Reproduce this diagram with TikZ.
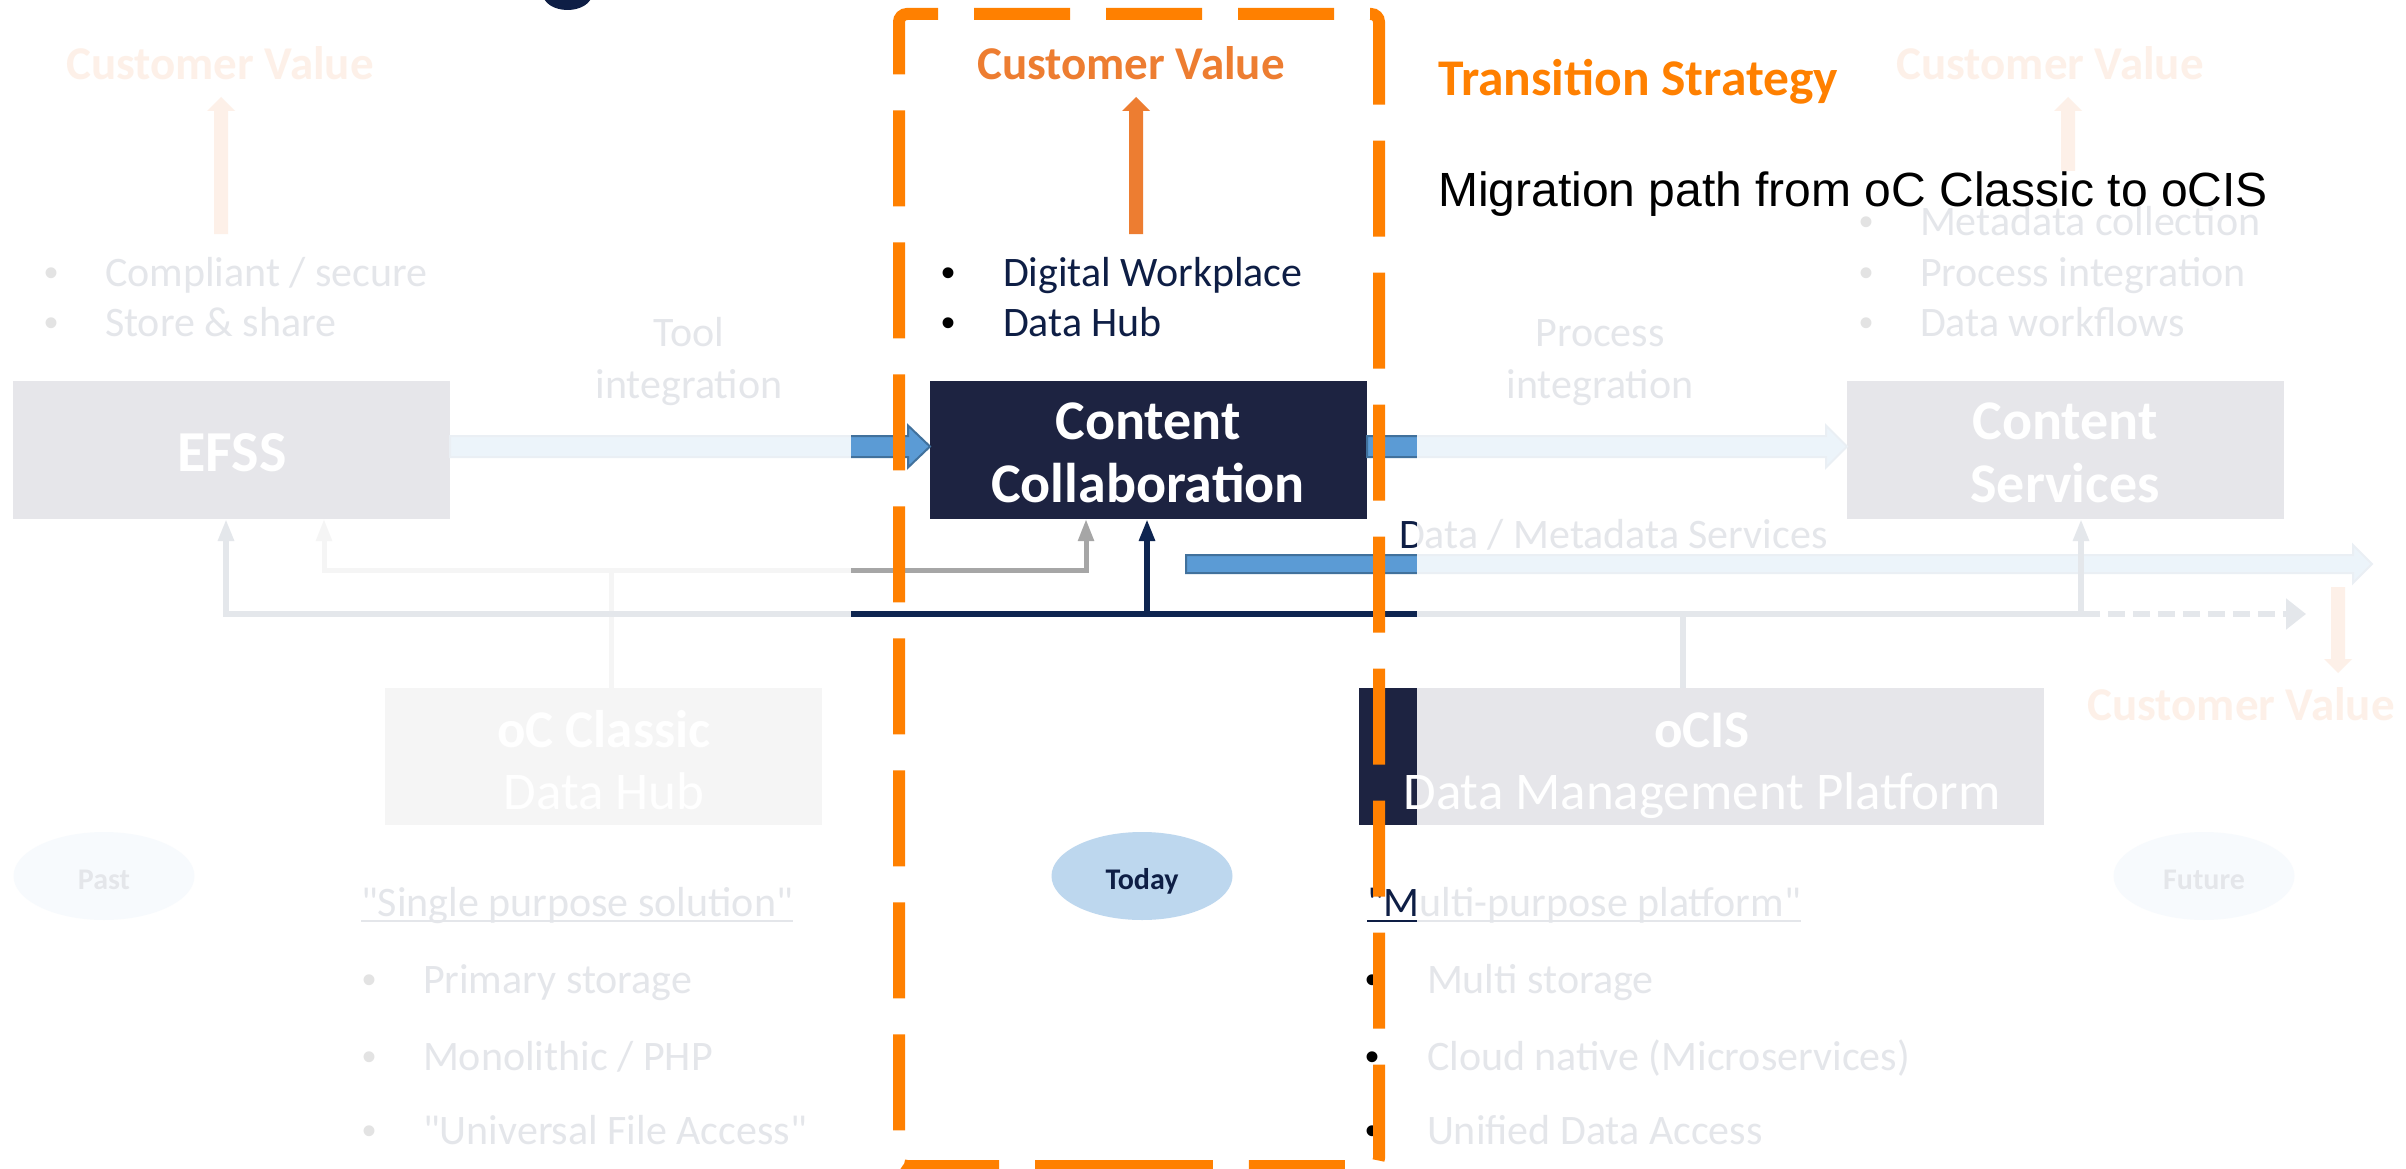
\documentclass[tikz,border=0pt]{standalone}
\usepackage{fontspec}
\setmainfont{Carlito}[Ligatures=TeXOff]
\newfontfamily\arialfont{Liberation Sans}
\usetikzlibrary{arrows.meta,calc,shapes.geometric}
\definecolor{navybox}{HTML}{1D2341}
\definecolor{navytxt}{HTML}{0E1E45}
\definecolor{navyln}{HTML}{0E2550}
\definecolor{cvorange}{HTML}{ED7D31}
\definecolor{hiorange}{HTML}{FF8000}
\definecolor{blockblue}{HTML}{5B9BD5}
\definecolor{blockedge}{HTML}{41719C}
\definecolor{lightblue}{HTML}{BDD7EE}
\definecolor{linegray}{HTML}{A6A6A6}
\newcommand{\dq}{\symbol{34}}
\newcommand{\hblock}[5]{\filldraw[blockarr] ($(#1)+(0,-#3)$) -- ($(#2)+(-#5,-#3)$) -- ($(#2)+(-#5,-#4)$) -- (#2) -- ($(#2)+(-#5,#4)$) -- ($(#2)+(-#5,#3)$) -- ($(#1)+(0,#3)$) -- cycle;}
\newcommand{\vblockup}[3]{\fill[#3] ($(#1)+(-7,0)$) -- ($(#2)+(-7,14)$) -- ($(#2)+(-14,14)$) -- (#2) -- ($(#2)+(14,14)$) -- ($(#2)+(7,14)$) -- ($(#1)+(7,0)$) -- cycle;}
\newcommand{\vblockdown}[3]{\fill[#3] ($(#1)+(-7,0)$) -- ($(#2)+(-7,-14)$) -- ($(#2)+(-14,-14)$) -- (#2) -- ($(#2)+(14,-14)$) -- ($(#2)+(7,-14)$) -- ($(#1)+(7,0)$) -- cycle;}
\tikzset{
  ltip/.tip={Triangle[width=15pt,length=22pt]},
  dtip/.tip={Triangle[width=30pt,length=20pt]},
  box/.style={rectangle, fill=navybox, draw=none, minimum width=437pt, minimum height=138pt, inner sep=0pt, outer sep=0pt},
  boxtxt/.style={text=white, font=\fontsize{58pt}{66pt}\selectfont\bfseries, text height=42pt, text depth=0pt},
  lbl/.style={inner sep=0pt, outer sep=0pt, anchor=base, text=white},
  lblb/.style={lbl, font=\fontsize{56pt}{64pt}\selectfont\bfseries},
  lblm/.style={lbl, font=\fontsize{53pt}{62pt}\selectfont\bfseries},
  lblr/.style={lbl, font=\fontsize{53pt}{62pt}\selectfont},
  ell/.style={ellipse, fill=lightblue, draw=none, minimum width=181pt, minimum height=88pt, inner sep=0pt, text=navytxt, font=\fontsize{30pt}{36pt}\selectfont\bfseries, text height=26pt, text depth=0pt},
  txt/.style={inner sep=0pt, outer sep=0pt, text=navytxt, font=\fontsize{42pt}{50pt}\selectfont},
  txtw/.style={txt, anchor=base west},
  txtc/.style={txt, anchor=base},
  bul/.style={inner sep=0pt, outer sep=0pt, anchor=base, text=black, font=\arialfont\fontsize{40pt}{48pt}\selectfont},
  cv/.style={inner sep=0pt, outer sep=0pt, anchor=base, text=cvorange, font=\fontsize{47pt}{56pt}\selectfont\bfseries},
  blockarr/.style={fill=blockblue, draw=blockedge, line width=2pt},
  grayln/.style={draw=linegray, line width=5pt},
  navyline/.style={draw=navyln, line width=6pt},
  hibox/.style={draw=hiorange, line width=12pt, dash pattern=on 96pt off 36pt, rounded corners=8pt},
}
\begin{document}
\begin{tikzpicture}[x=1pt,y=-1pt]
\useasboundingbox (0,0) rectangle (2406,1169);
\fill[white] (0,0) rectangle (2406,1169);

% main boxes
\node[box] (efss) at (231.5,450) {};
\node[box] (cc) at (1148.5,450) {};
\node[box] (cs) at (2065.5,450) {};
\node[box, fill=linegray, minimum height=137pt] (occ) at (603.5,756.5) {};
\node[box, minimum width=685pt, minimum height=137pt] (ocis) at (1701.5,756.5) {};

\node[boxtxt, inner sep=0pt] (efssT) at (232,450) {EFSS};
\node[lblb] (ccT1) at (1148,439) {Content};
\node[lblb] (ccT2) at (1148,502) {Collaboration};
\node[lblb] (csT1) at (2065,439) {Content};
\node[lblb] (csT2) at (2065,502) {Services};
\node[lblm] (occT1) at (604,747) {oC Classic};
\node[lblr] (occT2) at (604,809) {Data Hub};
\node[lblm] (ocisT1) at (1702,747) {oCIS};
\node[lblr] (ocisT2) at (1702,809) {Data Management Platform};

% ellipses
\node[ell] (past) at (104,876) {Past};
\node[ell] (today) at (1142,876) {Today};
\node[ell] (future) at (2204,876) {Future};

% thick block arrows
\coordinate (a1) at ([yshift=3.5pt]efss.east);
\coordinate (b1) at ([yshift=3.5pt]cc.west);
\hblock{a1}{b1}{10.5}{21}{22}
\coordinate (a2) at ([yshift=3.5pt]cc.east);
\coordinate (b2) at ([yshift=3.5pt]cs.west);
\hblock{a2}{b2}{10.5}{21}{21}
\coordinate (dmA) at (1186,564);
\coordinate (dmB) at (2372,564);
\hblock{dmA}{dmB}{9}{19}{19}

% gray connectors (oC Classic)
\coordinate (gO) at (611,570);
\coordinate (gA) at (324,570);
\coordinate (gB) at (1086,570);
\draw[grayln] (occ.north -| gO) -- (gO);
\draw[grayln,-ltip] (gO) -- (gA) -- (gA |- efss.south);
\draw[grayln,-ltip] (gO) -- (gB) -- (gB |- cc.south);

% navy connectors (oCIS)
\coordinate (nL) at (226,614);
\coordinate (nC) at (1147,614);
\coordinate (nO) at (1683,614);
\coordinate (nR) at (2081,614);
\coordinate (nD) at (2083,614);
\coordinate (nE) at (2306,614);
\draw[navyline,-ltip] (nD) -- (nL) -- (nL |- efss.south);
\draw[navyline,-ltip] (nC) -- (nC |- cc.south);
\draw[navyline,-ltip] (nR) -- (nR |- cs.south);
\draw[navyline] (nO) -- (nO |- ocis.north);
\draw[navyline, dash pattern=on 17pt off 8pt, -dtip] (nD) -- (nE);

% customer value labels and arrows
\node[cv] (cvl) at (220,80) {Customer Value};
\node[cv] (cvc) at (1131,80) {Customer Value};
\node[cv] (cvr) at (2050,80) {Customer Value};
\node[cv] (cvb) at (2241,720) {Customer Value};
\coordinate (cvlT) at (221,234); \coordinate (cvlA) at (221,97);
\coordinate (cvcT) at (1136,234); \coordinate (cvcA) at (1136,97);
\coordinate (cvrT) at (2068,171); \coordinate (cvrA) at (2068,97);
\coordinate (cvbT) at (2338,587); \coordinate (cvbA) at (2338,673);
\vblockup{cvlT}{cvlA}{cvorange}
\vblockup{cvcT}{cvcA}{cvorange}
\vblockup{cvrT}{cvrA}{cvorange}
\vblockdown{cvbT}{cvbA}{cvorange}

% upper bullets
\node[bul] (bl1) at (52,286) {•};
\node[txtw] (tl1) at (105,286) {Compliant / secure};
\node[bul] (bl2) at (52,336) {•};
\node[txtw] (tl2) at (105,336) {Store \& share};
\node[bul] (bc1) at (948,286) {•};
\node[txtw] (tc1) at (1003,286) {Digital Workplace};
\node[bul] (bc2) at (948,336) {•};
\node[txtw] (tc2) at (1003,336) {Data Hub};
\node[bul] (br1) at (1866,236) {•};
\node[txtw] (tr1) at (1920,236) {Metadata collection};
\node[bul] (br2) at (1866,286) {•};
\node[txtw] (tr2) at (1920,286) {Process integration};
\node[bul] (br3) at (1866,336) {•};
\node[txtw] (tr3) at (1920,336) {Data workflows};

% connector labels
\node[txtc] (tool1) at (689,346) {Tool};
\node[txtc] (tool2) at (689,398) {integration};
\node[txtc] (proc1) at (1600,346) {Process};
\node[txtc] (proc2) at (1600,398) {integration};
\node[txtw] (dms) at (1399,548) {Data / Metadata Services};

% lower descriptions
\node[txtw] (sps) at (361,916) {\dq Single purpose solution\dq};
\draw[navytxt, line width=2.5pt] ($(sps.base west)+(0,5)$) -- ($(sps.base east)+(0,5)$);
\node[txtw] (mpp) at (1367,916) {\dq Multi-purpose platform\dq};
\draw[navytxt, line width=2.5pt] ($(mpp.base west)+(0,5)$) -- ($(mpp.base east)+(0,5)$);
\node[bul] (bo1) at (369,993) {•};
\node[txtw] (to1) at (423,993) {Primary storage};
\node[bul] (bo2) at (369,1070) {•};
\node[txtw] (to2) at (423,1070) {Monolithic / PHP};
\node[bul] (bo3) at (369,1144) {•};
\node[txtw] (to3) at (423,1144) {\dq Universal File Access\dq};
\node[bul] (bn1) at (1372,993) {•};
\node[txtw] (tn1) at (1427,993) {Multi storage};
\node[bul] (bn2) at (1372,1070) {•};
\node[txtw] (tn2) at (1427,1070) {Cloud native (Microservices)};
\node[bul] (bn3) at (1372,1144) {•};
\node[txtw] (tn3) at (1427,1144) {Unified Data Access};

% fading overlay outside the highlighted strip
\fill[white, opacity=0.89] (0,0) rectangle (851,1169);
\fill[white, opacity=0.89] (1417,0) rectangle (2406,1169);

% highlight frame
\draw[hibox] (1139,1166) -- (899,1166) -- (899,14) -- (1379,14) -- (1379,1166) -- cycle;

% title remnant and heading texts
\fill[navytxt] (567.5,-6) ellipse [x radius=24.5, y radius=16];
\node[inner sep=0pt, anchor=base west, text=hiorange, font=\fontsize{51.5pt}{60pt}\selectfont\bfseries] (ts) at (1438,96) {Transition Strategy};
\node[inner sep=0pt, anchor=base west, text=black, font=\arialfont\fontsize{48pt}{56pt}\selectfont] (mig) at (1438,207) {Migration path from oC Classic to oCIS};
\end{tikzpicture}
\end{document}
